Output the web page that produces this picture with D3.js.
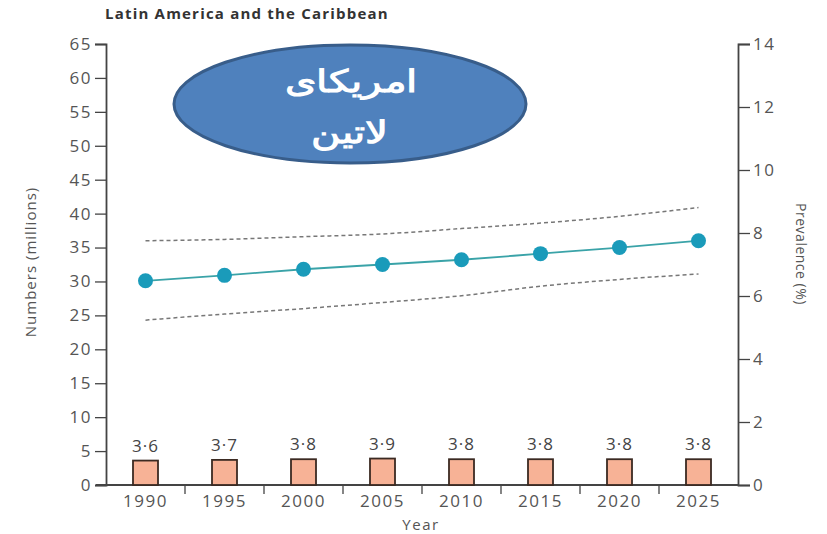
<!DOCTYPE html>
<html><head><meta charset="utf-8">
<script src="https://cdn.jsdelivr.net/npm/d3@7"></script>
<style>body{margin:0;background:#fff}svg{display:block}text{font-family:"Open Sans","Noto Sans",sans-serif}</style>
</head><body><svg id="c" width="827" height="534"></svg>
<script>
const years = ["1990","1995","2000","2005","2010","2015","2020","2025"];
const barValues = [3.6,3.7,3.8,3.9,3.8,3.8,3.8,3.8];
const barLabels = ["3·6","3·7","3·8","3·9","3·8","3·8","3·8","3·8"];
const lineValues = [30.1,30.9,31.8,32.5,33.2,34.1,35.0,36.0];
const upperValues = [36.0,36.2,36.6,37.0,37.8,38.6,39.6,40.9];
const lowerValues = [24.3,25.2,26.0,26.9,27.9,29.3,30.3,31.1];
const leftTicks = [0,5,10,15,20,25,30,35,40,45,50,55,60,65];
const rightTicks = [0,2,4,6,8,10,12,14];

const svg = d3.select("#c");
const x = d3.scaleBand().domain(years).range([106,738]).padding(0);
const yL = d3.scaleLinear().domain([0,65]).range([485,44]);
const yR = d3.scaleLinear().domain([0,14]).range([485,44]);
const axisCol = "#444", txtCol = "#555";
const tickFont = '"Open Sans","Noto Sans",sans-serif';

// title
svg.append("text").attr("x",105).attr("y",19).attr("font-size",15).attr("font-weight","bold")
  .attr("letter-spacing",1.2).attr("fill","#333").text("Latin America and the Caribbean");

// axes
const gL = svg.append("g").attr("transform","translate(106,0)").call(d3.axisLeft(yL).tickValues(leftTicks).tickSize(11).tickPadding(3));
const gR = svg.append("g").attr("transform","translate(738,0)").call(d3.axisRight(yR).tickValues(rightTicks).tickSize(12).tickPadding(3));
const gX = svg.append("g").attr("transform","translate(0,485)").call(d3.axisBottom(x).tickSize(0).tickPadding(10));
[gL,gR,gX].forEach(g=>{
  g.select(".domain").attr("stroke",axisCol).attr("stroke-width",1.8);
  g.selectAll(".tick line").attr("stroke",axisCol).attr("stroke-width",1.3);
  g.selectAll(".tick text").attr("fill",txtCol).attr("font-size",17).attr("letter-spacing",1.5).attr("font-family",tickFont);
});
gX.select(".domain").attr("d","M96,0H738");
// x separators
svg.append("g").selectAll("line").data(years.slice(1)).join("line")
  .attr("x1",d=>x(d)).attr("x2",d=>x(d)).attr("y1",485).attr("y2",494)
  .attr("stroke",axisCol).attr("stroke-width",1.3);

// axis titles
svg.append("text").attr("transform","translate(36,262) rotate(-90)").attr("text-anchor","middle").attr("font-size",15).attr("letter-spacing",1).attr("fill",txtCol).text("Numbers (millions)");
svg.append("text").attr("transform","translate(796,254) rotate(90)").attr("text-anchor","middle").attr("font-size",14).attr("letter-spacing",0.5).attr("fill",txtCol).text("Prevalence (%)");
svg.append("text").attr("x",421).attr("y",530).attr("text-anchor","middle").attr("font-size",15).attr("letter-spacing",1.5).attr("fill",txtCol).text("Year");

// bars
const bw = 25;
svg.append("g").selectAll("rect").data(years).join("rect")
  .attr("x",d=>x(d)+x.bandwidth()/2-bw/2).attr("width",bw)
  .attr("y",(d,i)=>yL(barValues[i])).attr("height",(d,i)=>yL(0)-yL(barValues[i]))
  .attr("fill","#F7B296").attr("stroke","#3b2a22").attr("stroke-width",1.8);
svg.append("g").selectAll("text").data(years).join("text")
  .attr("x",d=>x(d)+x.bandwidth()/2).attr("y",(d,i)=>yL(barValues[i])-9)
  .attr("text-anchor","middle").attr("font-size",17).attr("letter-spacing",1).attr("fill","#444").text((d,i)=>barLabels[i]);

// dashed bounds
const cx = d=>x(d)+x.bandwidth()/2;
const line = d3.line().x((d,i)=>cx(years[i])).y(d=>yL(d)).curve(d3.curveMonotoneX);
[upperValues,lowerValues].forEach(v=>{
  svg.append("path").attr("d",line(v)).attr("fill","none").attr("stroke","#777").attr("stroke-width",1.5).attr("stroke-dasharray","4,3");
});
// main line
svg.append("path").attr("d",line(lineValues)).attr("fill","none").attr("stroke","#3aa3a8").attr("stroke-width",1.8);
svg.append("g").selectAll("circle").data(lineValues).join("circle")
  .attr("cx",(d,i)=>cx(years[i])).attr("cy",d=>yL(d)).attr("r",7.5).attr("fill","#1A9BBA");

// ellipse annotation
svg.append("ellipse").attr("cx",350).attr("cy",104).attr("rx",176).attr("ry",59)
  .attr("fill","#4F81BD").attr("stroke","#385D8A").attr("stroke-width",3);
const arab = '"DejaVu Sans","Noto Sans",sans-serif';
svg.append("text").attr("transform","translate(351,92) scale(1.3,1)").attr("text-anchor","middle").attr("direction","rtl")
  .attr("font-size",31).attr("font-weight","bold").attr("fill","#fff").attr("font-family",arab).text("امریکای");
svg.append("text").attr("transform","translate(350,143) scale(1.3,1)").attr("text-anchor","middle").attr("direction","rtl")
  .attr("font-size",31).attr("font-weight","bold").attr("fill","#fff").attr("font-family",arab).text("لاتین");
</script></body></html>
